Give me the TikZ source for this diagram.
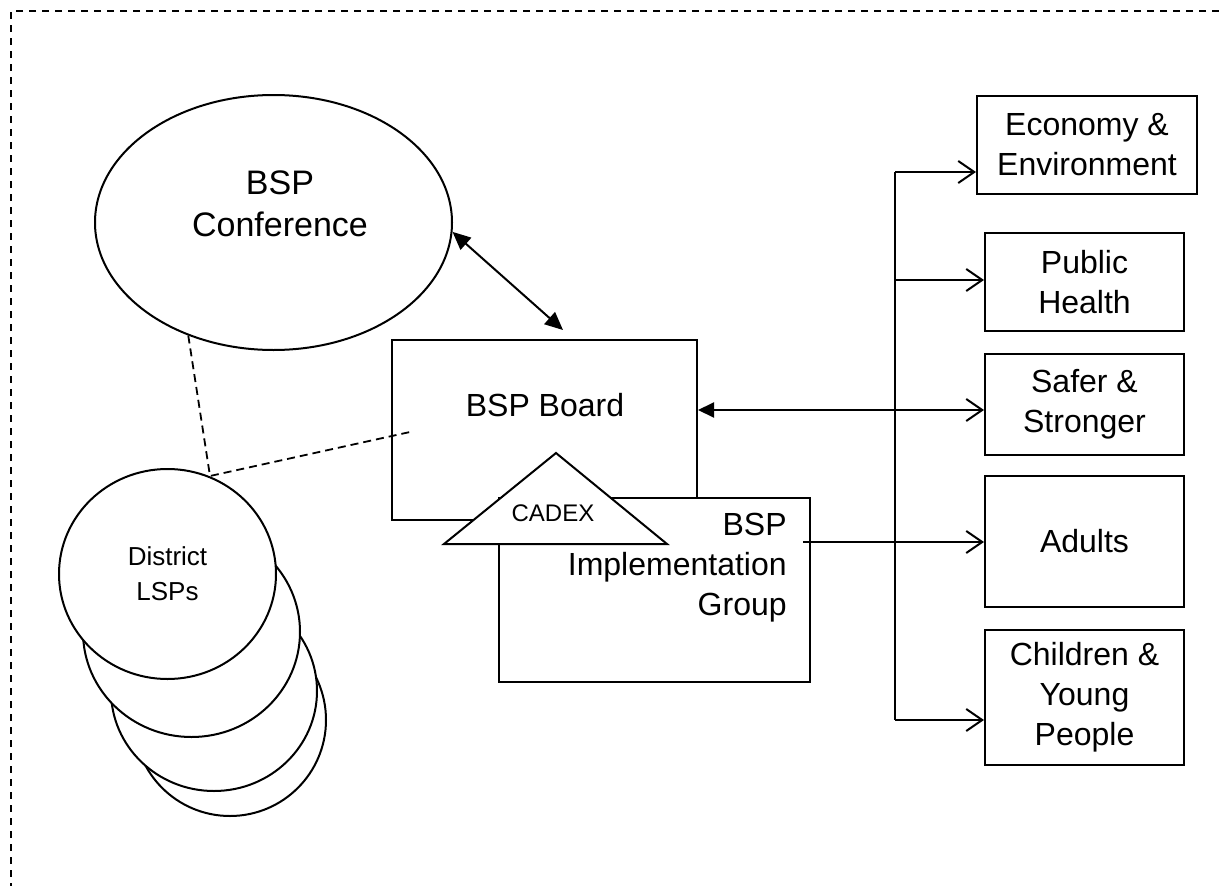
\documentclass[tikz,border=0pt]{standalone}
\usepackage{fontspec}
\setmainfont{Liberation Sans}
\usetikzlibrary{arrows.meta,shapes.geometric}

\begin{document}
\begin{tikzpicture}[x=1pt, y=-1pt, line width=2pt,
    box/.style = {draw, fill=white, rectangle, inner sep=0pt},
    lsp/.style = {draw, fill=white, ellipse, inner sep=0pt},
    txt/.style = {align=center, font=\fontsize{32}{40}\selectfont},
    link/.style = {line width=1.8pt, dash pattern=on 8pt off 5pt},
    open/.style = {-{Straight Barb[length=16pt, width=22pt]}},
    both/.style = {{Triangle[length=18pt, width=16pt]}-{Triangle[length=18pt, width=16pt]}}]
        \useasboundingbox (0,0) rectangle (1219,886);
        \draw[line width=1.5pt, dash pattern=on 7pt off 6pt] (1219,11) -- (11,11) -- (11,886);
        % district partnerships, back to front
        \node[lsp, minimum width=192pt, minimum height=192pt] (lsp4) at (230,720) {};
        \node[lsp, minimum width=206pt, minimum height=200pt] (lsp3) at (214,691) {};
        \node[lsp, minimum width=217pt, minimum height=210pt] (lsp2) at (191.5,632) {};
        \node[lsp, minimum width=217pt, minimum height=210pt, align=center,
              font=\fontsize{26}{35}\selectfont] (lsp1) at (167.5,574) {District\\LSPs};
        % conference
        \node[lsp, minimum width=357pt, minimum height=255pt] (conf) at (273.5,222.5) {};
        \node[txt, font=\fontsize{34}{42}\selectfont] (conftext) at (280,204) {BSP\\Conference};
        % board and group
        \node[box, minimum width=305pt, minimum height=180pt] (board) at (544.5,430) {};
        \node[txt] (boardtext) at (545,405) {BSP Board};
        \node[box, minimum width=311pt, minimum height=184pt] (impl) at (654.5,590) {};
        \node[txt, align=right, anchor=east] (impltext) at (791,568) {BSP\\Implementation\\Group};
        \draw[fill=white] (556,453) -- (667,544) -- (444,544) -- cycle;
        \node[font=\fontsize{24}{28}\selectfont] (cadex) at (553,513) {CADEX};
        % themes
        \node[box, txt, minimum width=220pt, minimum height=98pt] (econ) at (1087,145) {Economy \&\\Environment};
        \node[box, txt, minimum width=199pt, minimum height=98pt] (health) at (1084.5,282) {Public\\Health};
        \node[box, txt, minimum width=199pt, minimum height=101pt] (safer) at (1084.5,404.5) {Safer \&\\Stronger};
        \node[box, txt, minimum width=199pt, minimum height=131pt] (adults) at (1084.5,541.5) {Adults};
        \node[box, txt, minimum width=199pt, minimum height=135pt] (children) at (1084.5,697.5) {Children \&\\Young\\People};
        \coordinate (busE) at (895,172);
        \coordinate (busH) at (895,280);
        \coordinate (busS) at (895,410);
        \coordinate (busA) at (895,542);
        \coordinate (busC) at (895,720);
        \coordinate (implout) at (803,542);
        \draw (busE) -- (busC);
        \draw[open] (busE) -- (busE -| econ.west);
        \draw[open] (busH) -- (busH -| health.west);
        \draw[{Triangle[length=16pt, width=15pt]}-{Straight Barb[length=16pt, width=22pt]}]
            (busS -| board.east) -- (busS -| safer.west);
        \draw[open] (implout) -- (implout -| adults.west);
        \draw[open] (busC) -- (busC -| children.west);
        \draw[both] (conf.-3) -- ([xshift=18.5pt, yshift=9pt]board.north);
        % dashed links
        \coordinate (lspjoin) at (210,476);
        \coordinate (boardend) at (410,432);
        \draw[link] (conf.-127) -- (lspjoin) -- (boardend);
    \end{tikzpicture}
\end{document}
